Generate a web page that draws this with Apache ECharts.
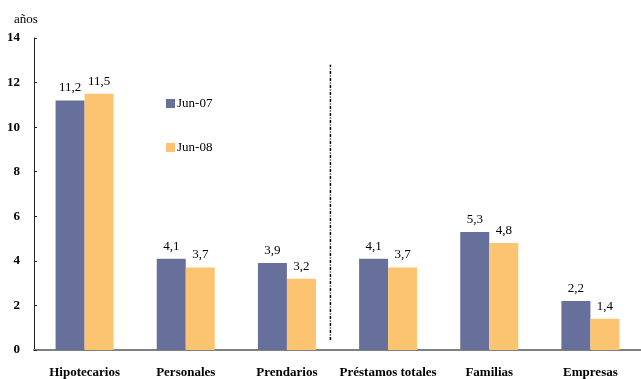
<!DOCTYPE html>
<html><head><meta charset="utf-8">
<script src="https://cdn.jsdelivr.net/npm/echarts@6/dist/echarts.min.js"></script>
<style>html,body{margin:0;padding:0;background:#fff}#c{width:641px;height:379px}</style>
</head><body><div id="c"></div>
<script>
const categories = ['Hipotecarios','Personales','Prendarios','Préstamos totales','Familias','Empresas'];
const jun07 = [11.2, 4.1, 3.9, 4.1, 5.3, 2.2];
const jun08 = [11.5, 3.7, 3.2, 3.7, 4.8, 1.4];
const seriesNames = ['Jun-07','Jun-08'];
const yTicks = [0, 2, 4, 6, 8, 10, 12, 14];
const separator = [[2.93, 0.45], [2.93, 12.8]];

const FONT = '"Liberation Serif", "DejaVu Serif", serif';
const chart = echarts.init(document.getElementById('c'), null, {renderer:'canvas'});
const lbl = {show:true, position:'top', distance:6, color:'#000', fontFamily:FONT, fontSize:13,
  formatter: p => p.value.toFixed(1).replace('.', ',')};
chart.setOption({
  animation:false,
  textStyle:{fontFamily:FONT},
  title:{text:'años', left:9, top:8, textStyle:{fontFamily:FONT, fontSize:13, fontWeight:'normal', color:'#000'}},
  legend:{orient:'vertical', left:161, top:92, itemWidth:9, itemHeight:9, itemGap:31, icon:'rect',
    textStyle:{fontFamily:FONT, fontSize:13, color:'#000', padding:[0,0,0,-3]}, data:seriesNames},
  grid:{left:34, right:0, top:38, bottom:29, containLabel:false},
  xAxis:[{type:'category', data:categories,
    axisLine:{lineStyle:{color:'#808080', width:2}}, axisTick:{show:false},
    axisLabel:{interval:0, fontFamily:FONT, fontSize:13, fontWeight:'bold', color:'#000', margin:16}},
   {type:'value', min:0, max:6, show:false}],
  yAxis:{type:'value', min:0, max:14, interval:2,
    axisLine:{show:true, lineStyle:{color:'#222', width:1}},
    axisTick:{show:true, inside:true, length:3, lineStyle:{color:'#222'}},
    splitLine:{show:false},
    axisLabel:{fontFamily:FONT, fontSize:13, fontWeight:'bold', color:'#000', margin:14,
      formatter: v => yTicks.includes(v) ? String(v) : ''}},
  series:[
    {name:seriesNames[0], type:'bar', data:jun07, barWidth:29, barGap:'0%', itemStyle:{color:'#676F9B'}, label:lbl},
    {name:seriesNames[1], type:'bar', data:jun08, barWidth:29, barGap:'0%', itemStyle:{color:'#FCC470'}, label:lbl},
    {type:'line', xAxisIndex:1, data:separator, symbol:'none', silent:true,
      lineStyle:{color:'#000', width:1.5, type:[3,1.5,1,1.5]}}
  ]
});
</script></body></html>
